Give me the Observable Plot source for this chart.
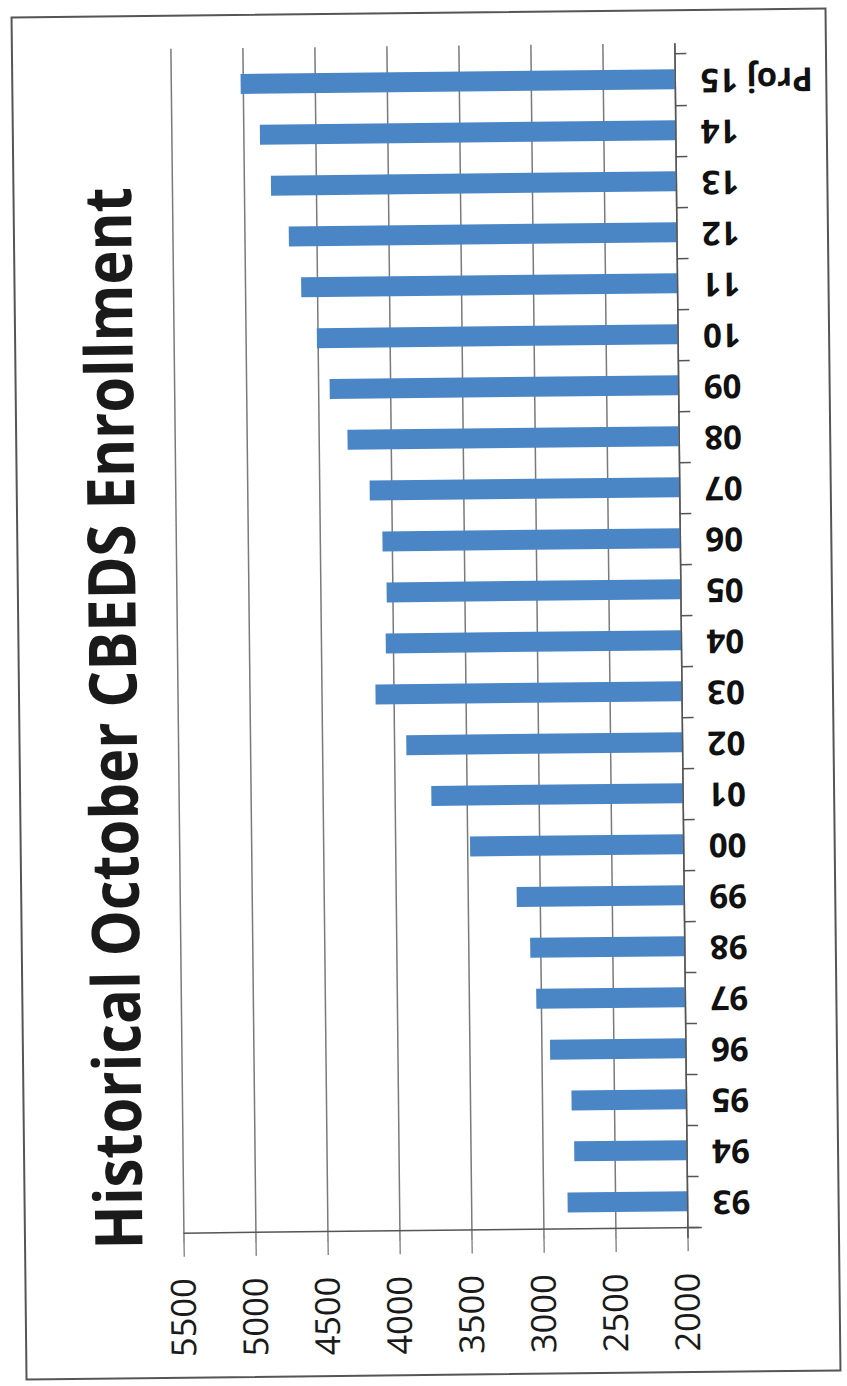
<!DOCTYPE html>
<html>
<head>
<meta charset="utf-8">
<script src="https://cdn.jsdelivr.net/npm/d3@7"></script>
<script src="https://cdn.jsdelivr.net/npm/@observablehq/plot@0.6"></script>
<style>
  html, body { margin: 0; padding: 0; background: #fff; }
  #page { position: relative; width: 847px; height: 1386px; overflow: hidden; transform: rotate(-0.63deg); transform-origin: 50% 50%; }
  #border { position: absolute; left: 18px; top: 12px; width: 816px; height: 1364px; border: 2px solid #555; box-sizing: border-box; }
  #chart { position: absolute; left: 0; top: 0; }
  #title { position: absolute; white-space: nowrap; font-family: "Open Sans", sans-serif; font-weight: 700; font-size: 66px; line-height: 1; color: #1a1a1a; }
</style>
</head>
<body>
<div id="page">
  <div id="border"></div>
  <div id="chart"></div>
  <div id="title">Historical October CBEDS Enrollment</div>
</div>
<script>
const categories = ["Proj 15", "14", "13", "12", "11", "10", "09", "08", "07", "06", "05", "04", "03", "02", "01", "00", "99", "98", "97", "96", "95", "94", "93"];
const enrollment = [5015, 4885, 4812, 4692, 4610, 4505, 4420, 4300, 4150, 4065, 4040, 4050, 4125, 3915, 3745, 3480, 3160, 3070, 3032, 2940, 2795, 2780, 2830];
const xTicks = [5500, 5000, 4500, 4000, 3500, 3000, 2500, 2000];

const data = categories.map((c, i) => ({cat: c, value: enrollment[i]}));

const W = 847, H = 1386;
const mTop = 46, mBottom = 145, mLeft = 177.5, mRight = 165.5;
const step = (H - mTop - mBottom) / categories.length;

const chart = Plot.plot({
  width: W,
  height: H,
  marginTop: mTop,
  marginBottom: mBottom,
  marginLeft: mLeft,
  marginRight: mRight,
  style: {fontFamily: "Open Sans, sans-serif", color: "#222", background: "transparent"},
  x: {domain: [5500, 2000], axis: null, label: null},
  y: {domain: categories, paddingInner: 0.6, paddingOuter: 0.3, axis: null, label: null},
  marks: [
    Plot.ruleX(xTicks, {stroke: "#7a7a7a", strokeWidth: 1.5}),
    Plot.barX(data, {y: "cat", x1: 2000, x2: "value", fill: "#4a86c6"}),
    Plot.ruleX([2000], {stroke: "#555", strokeWidth: 1.5}),
    Plot.ruleY(categories, {y: d => d, x1: 2000, x2: 1918, dy: step / 2, stroke: "#555", strokeWidth: 1.5}),
    Plot.ruleY([categories[0]], {y: d => d, x1: 2000, x2: 1918, dy: -step / 2, stroke: "#555", strokeWidth: 1.5}),
    Plot.ruleY([categories[categories.length - 1]], {y: d => d, x1: 5500, x2: 1900, dy: step / 2, stroke: "#555", strokeWidth: 1.5}),
    Plot.axisX(xTicks, {anchor: "bottom", label: null, tickSize: 13, tickPadding: 21, tickRotate: -90, fontSize: 34.5, tickFormat: d => String(d), stroke: "#555", fill: "#1a1a1a"}),
    Plot.text(data, {y: "cat", x: 2000, text: "cat", rotate: 180, textAnchor: "end", dx: 25, fontSize: 33, fontWeight: "bold", fill: "#111"})
  ]
});
document.getElementById("chart").appendChild(chart);

// position the rotated title
const t = document.getElementById("title");
const w = t.offsetWidth, h = t.offsetHeight;
const targetLen = 1062;
const k = targetLen / w;
const cx = 110, cy = 715;
t.style.left = (cx - w / 2) + "px";
t.style.top = (cy - h / 2) + "px";
t.style.transform = `rotate(-90deg) scaleX(${k})`;
t.style.transformOrigin = "50% 50%";
</script>
</body>
</html>
